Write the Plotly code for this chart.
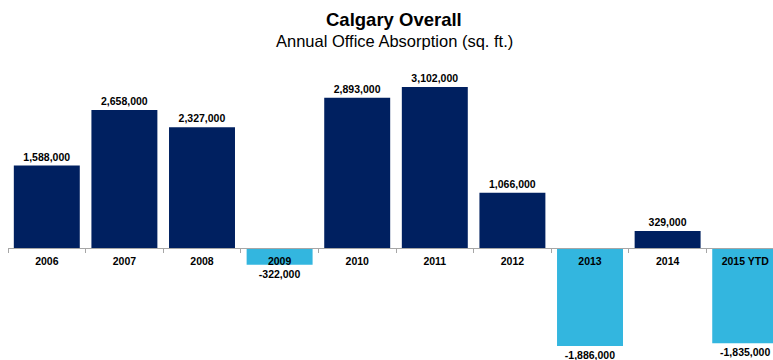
import plotly.graph_objects as go

categories = ["2006", "2007", "2008", "2009", "2010", "2011", "2012", "2013", "2014", "2015 YTD"]
absorption = [1588000, 2658000, 2327000, -322000, 2893000, 3102000, 1066000, -1886000, 329000, -1835000]

NAVY = "#002060"
LIGHT = "#33B6DF"
colors = [NAVY if v >= 0 else LIGHT for v in absorption]
labels = [f"{v:,}" for v in absorption]

FONT = "Liberation Sans, Arial, sans-serif"

fig = go.Figure(go.Bar(
    x=categories,
    y=absorption,
    marker=dict(color=colors, line=dict(width=0)),
    width=0.85,
    text=labels,
    textposition="outside",
    textfont=dict(family=FONT, size=10.5, color="#000000", weight="bold"),
    constraintext="none",
    cliponaxis=False,
    hoverinfo="skip",
))

fig.update_layout(
    width=773, height=360,
    margin=dict(l=8, r=0, t=60, b=0),
    paper_bgcolor="white", plot_bgcolor="white",
    showlegend=False,
    font=dict(family=FONT),
    xaxis=dict(
        type="category",
        range=[-0.5, 9.358],
        anchor="free",
        position=0.3733,
        showline=True, linecolor="#A6A6A6", linewidth=1,
        ticks="outside", ticklen=4, tickcolor="#A6A6A6", tickwidth=1,
        tickson="boundaries",
        ticklabelstandoff=3,
        tickfont=dict(family=FONT, size=10.5, color="#000000", weight="bold"),
        showgrid=False, zeroline=False,
        layer="above traces",
        automargin=False,
        fixedrange=True,
    ),
    yaxis=dict(
        range=[-2158000, 3622000],
        visible=False, showgrid=False, zeroline=False,
        fixedrange=True,
    ),
    annotations=[
        dict(text="<b>Calgary Overall</b>", xref="paper", yref="paper",
             x=0.5046, y=1, yshift=41, xanchor="center", yanchor="middle",
             showarrow=False, font=dict(family=FONT, size=18.5, color="#000000")),
        dict(text="Annual Office Absorption (sq. ft.)", xref="paper", yref="paper",
             x=0.5046, y=1, yshift=19, xanchor="center", yanchor="middle",
             showarrow=False, font=dict(family=FONT, size=16.5, color="#000000")),
    ],
)

fig.write_html("out.html")
